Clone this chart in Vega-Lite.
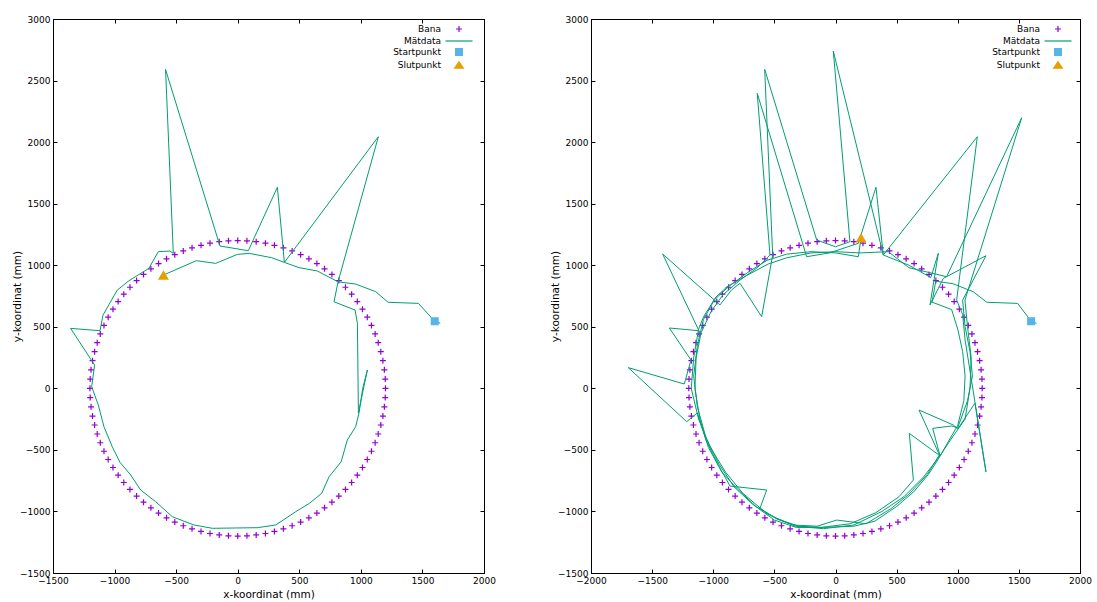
{
"$schema":"https://vega.github.io/schema/vega-lite/v6.json",
"background":"white",
"padding":{"left":12,"top":14,"right":5,"bottom":0},
"spacing":54,
"config":{
 "font":"DejaVu Sans",
 "view":{"stroke":"#000","strokeWidth":1},
 "axis":{"grid":false,"format":"d","domainColor":"#000","domainWidth":1,"tickColor":"#000","tickSize":-4,"tickWidth":1,"labelPadding":7,"labelFontSize":9,"labelColor":"#000","titleFontSize":10.5,"titleFontWeight":"normal","titleColor":"#000","labelFont":"DejaVu Sans","titleFont":"DejaVu Sans","labelFlush":false,"labelOverlap":false},
 "axisX":{"titlePadding":4},
 "axisY":{"titlePadding":-3},
 "legend":{"labelFont":"DejaVu Sans","labelFontSize":9,"labelColor":"#000","symbolSize":100,"symbolStrokeWidth":1.2,"rowPadding":-6,"padding":0,"labelLimit":0}
},
"datasets":{
"bana":[
{"s":"Bana","x":1200,"y":0},{"s":"Bana","x":1198,"y":75},{"s":"Bana","x":1191,"y":150},{"s":"Bana","x":1179,"y":225},{"s":"Bana","x":1162,"y":298},{"s":"Bana","x":1141,"y":371},{"s":"Bana","x":1116,"y":442},{"s":"Bana","x":1086,"y":511},{"s":"Bana","x":1052,"y":578},{"s":"Bana","x":1013,"y":643},{"s":"Bana","x":971,"y":705},{"s":"Bana","x":925,"y":765},{"s":"Bana","x":875,"y":821},{"s":"Bana","x":821,"y":875},{"s":"Bana","x":765,"y":925},{"s":"Bana","x":705,"y":971},{"s":"Bana","x":643,"y":1013},{"s":"Bana","x":578,"y":1052},{"s":"Bana","x":511,"y":1086},{"s":"Bana","x":442,"y":1116},{"s":"Bana","x":371,"y":1141},{"s":"Bana","x":298,"y":1162},{"s":"Bana","x":225,"y":1179},{"s":"Bana","x":150,"y":1191},{"s":"Bana","x":75,"y":1198},
{"s":"Bana","x":0,"y":1200},{"s":"Bana","x":-75,"y":1198},{"s":"Bana","x":-150,"y":1191},{"s":"Bana","x":-225,"y":1179},{"s":"Bana","x":-298,"y":1162},{"s":"Bana","x":-371,"y":1141},{"s":"Bana","x":-442,"y":1116},{"s":"Bana","x":-511,"y":1086},{"s":"Bana","x":-578,"y":1052},{"s":"Bana","x":-643,"y":1013},{"s":"Bana","x":-705,"y":971},{"s":"Bana","x":-765,"y":925},{"s":"Bana","x":-821,"y":875},{"s":"Bana","x":-875,"y":821},{"s":"Bana","x":-925,"y":765},{"s":"Bana","x":-971,"y":705},{"s":"Bana","x":-1013,"y":643},{"s":"Bana","x":-1052,"y":578},{"s":"Bana","x":-1086,"y":511},{"s":"Bana","x":-1116,"y":442},{"s":"Bana","x":-1141,"y":371},{"s":"Bana","x":-1162,"y":298},{"s":"Bana","x":-1179,"y":225},{"s":"Bana","x":-1191,"y":150},{"s":"Bana","x":-1198,"y":75},
{"s":"Bana","x":-1200,"y":0},{"s":"Bana","x":-1198,"y":-75},{"s":"Bana","x":-1191,"y":-150},{"s":"Bana","x":-1179,"y":-225},{"s":"Bana","x":-1162,"y":-298},{"s":"Bana","x":-1141,"y":-371},{"s":"Bana","x":-1116,"y":-442},{"s":"Bana","x":-1086,"y":-511},{"s":"Bana","x":-1052,"y":-578},{"s":"Bana","x":-1013,"y":-643},{"s":"Bana","x":-971,"y":-705},{"s":"Bana","x":-925,"y":-765},{"s":"Bana","x":-875,"y":-821},{"s":"Bana","x":-821,"y":-875},{"s":"Bana","x":-765,"y":-925},{"s":"Bana","x":-705,"y":-971},{"s":"Bana","x":-643,"y":-1013},{"s":"Bana","x":-578,"y":-1052},{"s":"Bana","x":-511,"y":-1086},{"s":"Bana","x":-442,"y":-1116},{"s":"Bana","x":-371,"y":-1141},{"s":"Bana","x":-298,"y":-1162},{"s":"Bana","x":-225,"y":-1179},{"s":"Bana","x":-150,"y":-1191},{"s":"Bana","x":-75,"y":-1198},
{"s":"Bana","x":0,"y":-1200},{"s":"Bana","x":75,"y":-1198},{"s":"Bana","x":150,"y":-1191},{"s":"Bana","x":225,"y":-1179},{"s":"Bana","x":298,"y":-1162},{"s":"Bana","x":371,"y":-1141},{"s":"Bana","x":442,"y":-1116},{"s":"Bana","x":511,"y":-1086},{"s":"Bana","x":578,"y":-1052},{"s":"Bana","x":643,"y":-1013},{"s":"Bana","x":705,"y":-971},{"s":"Bana","x":765,"y":-925},{"s":"Bana","x":821,"y":-875},{"s":"Bana","x":875,"y":-821},{"s":"Bana","x":925,"y":-765},{"s":"Bana","x":971,"y":-705},{"s":"Bana","x":1013,"y":-643},{"s":"Bana","x":1052,"y":-578},{"s":"Bana","x":1086,"y":-511},{"s":"Bana","x":1116,"y":-442},{"s":"Bana","x":1141,"y":-371},{"s":"Bana","x":1162,"y":-298},{"s":"Bana","x":1179,"y":-225},{"s":"Bana","x":1191,"y":-150},{"s":"Bana","x":1198,"y":-75}
],
"matA":[
{"x":1645,"y":528},{"x":1600,"y":545},{"x":1467,"y":690},{"x":1221,"y":699},{"x":1121,"y":785},{"x":958,"y":847},{"x":815,"y":865},{"x":782,"y":703},{"x":953,"y":636},{"x":972,"y":528},{"x":980,"y":-200},{"x":1053,"y":149},{"x":1015,"y":0},{"x":985,"y":-200},{"x":958,"y":-312},{"x":890,"y":-420},{"x":840,"y":-596},{"x":742,"y":-718},{"x":682,"y":-853},{"x":582,"y":-934},{"x":471,"y":-1002},{"x":309,"y":-1110},{"x":160,"y":-1132},{"x":-206,"y":-1137},{"x":-355,"y":-1110},{"x":-531,"y":-1043},{"x":-666,"y":-921},{"x":-788,"y":-826},{"x":-869,"y":-704},{"x":-956,"y":-601},{"x":-1019,"y":-474},{"x":-1086,"y":-312},{"x":-1132,"y":-136},{"x":-1186,"y":13},{"x":-1162,"y":189},{"x":-1189,"y":230},{"x":-1357,"y":487},{"x":-1118,"y":468},{"x":-1094,"y":595},{"x":-978,"y":798},{"x":-883,"y":874},{"x":-721,"y":975},{"x":-645,"y":1110},{"x":-552,"y":1115},{"x":-523,"y":1097},{"x":-586,"y":2590},{"x":-144,"y":1156},{"x":86,"y":1118},{"x":322,"y":1633},{"x":379,"y":1023},{"x":1142,"y":2044},{"x":815,"y":865},{"x":647,"y":953},{"x":499,"y":980},{"x":379,"y":1023},{"x":276,"y":1061},{"x":95,"y":1096},{"x":-3,"y":1088},{"x":-179,"y":1015},{"x":-336,"y":1037},{"x":-603,"y":920}
],
"matB":[
{"x":1645,"y":528},{"x":1600,"y":545},{"x":1490,"y":690},{"x":1237,"y":699},{"x":1127,"y":785},{"x":960,"y":850},{"x":820,"y":870},{"x":790,"y":700},{"x":950,"y":640},{"x":1000,"y":480},{"x":1040,"y":300},{"x":1060,"y":100},{"x":1050,"y":-100},{"x":1000,"y":-300},{"x":930,"y":-420},{"x":850,"y":-560},{"x":760,"y":-700},{"x":640,"y":-840},{"x":500,"y":-960},{"x":320,"y":-1080},{"x":150,"y":-1120},{"x":-100,"y":-1130},{"x":-300,"y":-1120},{"x":-480,"y":-1060},{"x":-650,"y":-960},{"x":-800,"y":-820},{"x":-930,"y":-680},{"x":-1040,"y":-480},{"x":-1110,"y":-250},{"x":-1150,"y":0},{"x":-1140,"y":250},{"x":-1100,"y":450},{"x":-1020,"y":620},{"x":-920,"y":760},{"x":-780,"y":880},{"x":-640,"y":980},{"x":-536,"y":1083},{"x":-640,"y":2396},{"x":-236,"y":1069},{"x":-50,"y":1100},{"x":187,"y":1178},{"x":331,"y":1633},{"x":391,"y":1083},{"x":1160,"y":2044},{"x":991,"y":717},{"x":1040,"y":600},
{"x":1060,"y":394},{"x":1231,"y":-679},{"x":1141,"y":-120},{"x":1000,"y":-330},{"x":964,"y":-298},{"x":683,"y":-176},{"x":850,"y":-540},{"x":750,"y":-700},{"x":600,"y":-860},{"x":450,"y":-980},{"x":250,"y":-1100},{"x":10,"y":-1070},{"x":-150,"y":-1120},{"x":-350,"y":-1110},{"x":-480,"y":-1060},{"x":-618,"y":-975},{"x":-563,"y":-826},{"x":-863,"y":-794},{"x":-960,"y":-620},{"x":-1060,"y":-420},{"x":-1130,"y":-200},{"x":-1217,"y":-271},{"x":-1695,"y":168},{"x":-1237,"y":35},{"x":-1182,"y":230},{"x":-1359,"y":490},{"x":-1117,"y":468},{"x":-1414,"y":1091},{"x":-945,"y":677},{"x":-850,"y":800},{"x":-781,"y":853},{"x":-604,"y":582},{"x":-514,"y":1083},{"x":-579,"y":2591},{"x":-154,"y":1205},{"x":0,"y":1150},{"x":118,"y":1191},{"x":-18,"y":2740},{"x":391,"y":1083},{"x":600,"y":1000},{"x":780,"y":900},{"x":841,"y":1097},{"x":773,"y":677},{"x":882,"y":893},{"x":1231,"y":1077},{"x":1040,"y":717},{"x":1060,"y":500},
{"x":1100,"y":300},{"x":1120,"y":100},{"x":1080,"y":-100},{"x":1000,"y":-320},{"x":950,"y":-306},{"x":795,"y":-325},{"x":855,"y":-548},{"x":720,"y":-720},{"x":560,"y":-880},{"x":380,"y":-1000},{"x":150,"y":-1110},{"x":-100,"y":-1140},{"x":-330,"y":-1120},{"x":-560,"y":-1020},{"x":-760,"y":-850},{"x":-900,"y":-680},{"x":-1030,"y":-470},{"x":-1120,"y":-250},{"x":-1180,"y":0},{"x":-1160,"y":250},{"x":-1120,"y":480},{"x":-1080,"y":580},{"x":-980,"y":740},{"x":-880,"y":830},{"x":-720,"y":920},{"x":-550,"y":1010},{"x":-400,"y":1060},{"x":-200,"y":1100},{"x":0,"y":1110},{"x":200,"y":1100},{"x":432,"y":1110},{"x":600,"y":980},{"x":909,"y":907},{"x":1523,"y":2198},{"x":1059,"y":717},
{"x":1080,"y":500},{"x":1110,"y":250},{"x":1100,"y":0},{"x":1060,"y":-250},{"x":940,"y":-420},{"x":855,"y":-548},{"x":604,"y":-366},{"x":637,"y":-745},{"x":520,"y":-880},{"x":330,"y":-1010},{"x":120,"y":-1100},{"x":-120,"y":-1130},{"x":-320,"y":-1130},{"x":-500,"y":-1070},{"x":-680,"y":-940},{"x":-830,"y":-800},{"x":-950,"y":-620},{"x":-1060,"y":-400},{"x":-1130,"y":-150},{"x":-1160,"y":100},{"x":-1130,"y":350},{"x":-1080,"y":560},{"x":-990,"y":720},{"x":-870,"y":830},{"x":-720,"y":940},{"x":-560,"y":1040},{"x":-400,"y":1090},{"x":-200,"y":1110},{"x":0,"y":1100},{"x":187,"y":1069},{"x":209,"y":1223}
],
"startA":[{"x":1600,"y":545}],
"endA":[{"x":-603,"y":920}],
"startB":[{"x":1600,"y":545}],
"endB":[{"x":209,"y":1223}]
},
"hconcat":[
{
 "width":431,"height":554,
 "layer":[
  {"data":{"name":"bana"},"mark":{"type":"point","filled":true,"size":100,"strokeWidth":1.2,"opacity":1},
   "encoding":{
    "x":{"field":"x","type":"quantitative","scale":{"domain":[-1500,2000],"nice":false,"zero":false},"axis":{"title":"x-koordinat (mm)","values":[-1500,-1000,-500,0,500,1000,1500,2000]}},
    "y":{"field":"y","type":"quantitative","scale":{"domain":[-1500,3000],"nice":false,"zero":false},"axis":{"title":"y-koordinat (mm)","values":[-1500,-1000,-500,0,500,1000,1500,2000,2500,3000]}},
    "shape":{"field":"s","type":"nominal","scale":{"domain":["Bana","Mätdata","Startpunkt","Slutpunkt"],"range":["M-0.6,0H0.6M0,-0.6V0.6","M-2.7,0H2.7","M-0.8,-0.8H0.8V0.8H-0.8Z","M0,-0.85L1.1,0.75H-1.1Z"]},"legend":{"orient":"none","legendX":400,"legendY":4,"title":null,"labelAlign":"right","labelOffset":-24}},
    "fill":{"field":"s","type":"nominal","scale":{"domain":["Bana","Mätdata","Startpunkt","Slutpunkt"],"range":["transparent","transparent","#56b4e9","#e69f00"]},"legend":{"orient":"none","legendX":400,"legendY":4,"title":null,"labelAlign":"right","labelOffset":-24}},
    "stroke":{"field":"s","type":"nominal","scale":{"domain":["Bana","Mätdata","Startpunkt","Slutpunkt"],"range":["#9400d3","#009e73","transparent","transparent"]},"legend":{"orient":"none","legendX":400,"legendY":4,"title":null,"labelAlign":"right","labelOffset":-24}}
   }},
  {"data":{"name":"matA"},"mark":{"type":"line","strokeWidth":1,"color":"#009e73"},
   "encoding":{
    "x":{"field":"x","type":"quantitative","axis":{"orient":"top","labels":false,"title":null,"values":[-1500,-1000,-500,0,500,1000,1500,2000]}},
    "y":{"field":"y","type":"quantitative","axis":{"orient":"right","labels":false,"title":null,"values":[-1500,-1000,-500,0,500,1000,1500,2000,2500,3000]}},
    "order":{"value":null}}},
  {"data":{"name":"startA"},"mark":{"type":"point","shape":"square","filled":true,"size":64,"opacity":1,"color":"#56b4e9"},
   "encoding":{"x":{"field":"x","type":"quantitative","axis":null},"y":{"field":"y","type":"quantitative","axis":null}}},
  {"data":{"name":"endA"},"mark":{"type":"point","shape":"triangle-up","filled":true,"size":121,"opacity":1,"color":"#e69f00"},
   "encoding":{"x":{"field":"x","type":"quantitative","axis":null},"y":{"field":"y","type":"quantitative","axis":null}}}
 ],
 "resolve":{"axis":{"x":"independent","y":"independent"}}
},
{
 "width":489,"height":554,
 "layer":[
  {"data":{"name":"bana"},"mark":{"type":"point","filled":true,"size":100,"strokeWidth":1.2,"opacity":1},
   "encoding":{
    "x":{"field":"x","type":"quantitative","scale":{"domain":[-2000,2000],"nice":false,"zero":false},"axis":{"title":"x-koordinat (mm)","values":[-2000,-1500,-1000,-500,0,500,1000,1500,2000]}},
    "y":{"field":"y","type":"quantitative","scale":{"domain":[-1500,3000],"nice":false,"zero":false},"axis":{"title":"y-koordinat (mm)","values":[-1500,-1000,-500,0,500,1000,1500,2000,2500,3000]}},
    "shape":{"field":"s","type":"nominal","scale":{"domain":["Bana","Mätdata","Startpunkt","Slutpunkt"],"range":["M-0.6,0H0.6M0,-0.6V0.6","M-2.7,0H2.7","M-0.8,-0.8H0.8V0.8H-0.8Z","M0,-0.85L1.1,0.75H-1.1Z"]},"legend":{"orient":"none","legendX":461,"legendY":4,"title":null,"labelAlign":"right","labelOffset":-24}},
    "fill":{"field":"s","type":"nominal","scale":{"domain":["Bana","Mätdata","Startpunkt","Slutpunkt"],"range":["transparent","transparent","#56b4e9","#e69f00"]},"legend":{"orient":"none","legendX":461,"legendY":4,"title":null,"labelAlign":"right","labelOffset":-24}},
    "stroke":{"field":"s","type":"nominal","scale":{"domain":["Bana","Mätdata","Startpunkt","Slutpunkt"],"range":["#9400d3","#009e73","transparent","transparent"]},"legend":{"orient":"none","legendX":461,"legendY":4,"title":null,"labelAlign":"right","labelOffset":-24}}
   }},
  {"data":{"name":"matB"},"mark":{"type":"line","strokeWidth":1,"color":"#009e73"},
   "encoding":{
    "x":{"field":"x","type":"quantitative","axis":{"orient":"top","labels":false,"title":null,"values":[-2000,-1500,-1000,-500,0,500,1000,1500,2000]}},
    "y":{"field":"y","type":"quantitative","axis":{"orient":"right","labels":false,"title":null,"values":[-1500,-1000,-500,0,500,1000,1500,2000,2500,3000]}},
    "order":{"value":null}}},
  {"data":{"name":"startB"},"mark":{"type":"point","shape":"square","filled":true,"size":64,"opacity":1,"color":"#56b4e9"},
   "encoding":{"x":{"field":"x","type":"quantitative","axis":null},"y":{"field":"y","type":"quantitative","axis":null}}},
  {"data":{"name":"endB"},"mark":{"type":"point","shape":"triangle-up","filled":true,"size":121,"opacity":1,"color":"#e69f00"},
   "encoding":{"x":{"field":"x","type":"quantitative","axis":null},"y":{"field":"y","type":"quantitative","axis":null}}}
 ],
 "resolve":{"axis":{"x":"independent","y":"independent"}}
}
],
"resolve":{"scale":{"x":"independent","y":"independent","shape":"independent","fill":"independent","stroke":"independent"},"legend":{"shape":"independent","fill":"independent","stroke":"independent"}}
}
